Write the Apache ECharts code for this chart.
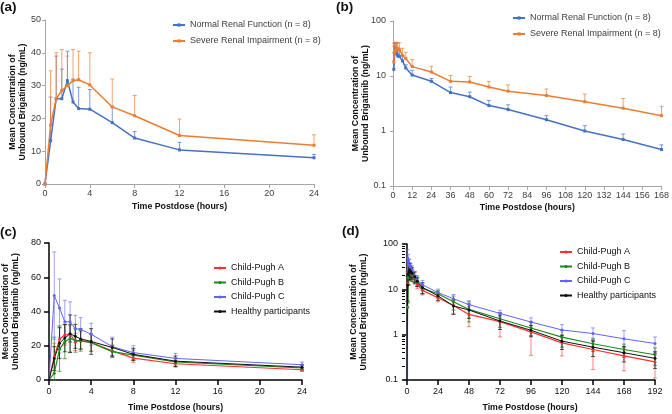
<!DOCTYPE html>
<html><head><meta charset="utf-8">
<script src="https://cdn.jsdelivr.net/npm/echarts@6/dist/echarts.min.js"></script>
<style>html,body{margin:0;padding:0;background:#fff}#c{width:672px;height:414px}</style>
</head><body><div id="c"></div>
<script>
// ---------- Panel (a): renal, linear ----------
const tA = [0,0.5,1,1.5,2,2.5,3,4,6,8,12,24];
const normalA   = [0,13.2,26,26,31.5,25,23,22.8,18.7,14,10.4,8];
const normalASD = [0,13.3,13,9,9,7,6.5,6,4.8,2,2.3,1];
const severeA   = [0,18,26,28.5,30,31.5,31.8,30.2,23.5,20.8,14.8,11.8];
const severeASD = [0,16.5,14,12.5,9,9.5,8.7,9.8,8.5,6.2,5,3.2];
// ---------- Panel (b): renal, log ----------
const tB = [0.5,1,1.5,2,2.5,3,4,6,8,12,24,36,48,60,72,96,120,144,168];
const normalB   = [13.2,26,26,31.5,25,23,22.8,18.7,14,10.4,8,5,4.2,2.9,2.45,1.6,1.0,0.7,0.46];
const normalBSD = [13.3,13,9,9,7,6.5,6,4.8,2,2.3,1,1.3,0.9,0.7,0.55,0.3,0.25,0.18,0.1];
const severeB   = [18,26,28.5,30,31.5,31.8,30.2,23.5,20.8,14.8,11.8,8,7.8,6.3,5.3,4.4,3.4,2.6,1.9];
const severeBSD = [16.5,14,12.5,9,9.5,8.7,9.8,8.5,6.2,5,3.2,2.2,2.0,1.7,1.6,1.4,1.3,1.3,0.9];
// ---------- Panel (c): hepatic, linear ----------
const tC = [0,0.5,1,1.5,2,2.5,3,4,6,8,12,24];
const cpaC = [0,13.5,23.8,26.3,27,22.2,23.2,21.8,17,12.8,9.5,6];
const cpaCSD = [0,8,8,6,5,5,5,5,3.5,2.5,2,1];
const cpbC = [0,4,18,22.4,24.3,23.2,22.8,21.8,16.6,14.5,10.5,7];
const cpbCSD = [0,21,13,10,8,7,6,5,3.5,3,2.5,1.5];
const cpcC = [0,49.3,42,34,34,29.8,29.6,26.7,19.5,16,12.6,8.9];
const cpcCSD = [0,25.5,17,12.5,11.6,8,6.8,6.4,5.5,4,3,1.6];
const hpC = [0,12.5,21.5,24.5,27,25.5,24,22.5,19,15,11,7.5];
const hpCSD = [0,7,9,8,11,7,6,7.5,5,3.5,3,1.5];
// ---------- Panel (d): hepatic, log ----------
const tD = [0,0.5,1,1.5,2,2.5,3,4,6,8,12,24,36,48,72,96,120,144,168,192];
const cpaD = [0,13.5,23.8,26.3,27,22.2,23.2,21.8,17,12.8,9.5,6.5,4.4,2.8,1.94,1.15,0.66,0.47,0.34,0.25];
const cpaDSD = [0,8,8,6,5,5,5,5,3.5,2.5,2,1.2,1.5,1.3,1.05,0.8,0.32,0.3,0.18,0.14];
const cpbD = [0,4,18,22.4,24.3,23.2,22.8,21.8,16.6,14.5,10.5,8,5.3,3.6,2.25,1.4,0.88,0.63,0.47,0.36];
const cpbDSD = [0,21,13,10,8,7,6,5,3.5,3,2.5,1.5,1.8,1.7,0.8,0.45,0.35,0.2,0.15,0.15];
const cpcD = [0,49.3,42,34,34,29.8,29.6,26.7,19.5,16,12.6,8.5,6.2,4.6,2.94,1.9,1.27,1.06,0.81,0.64];
const cpcDSD = [0,25.5,17,12.5,11.6,8,6.8,6.4,5.5,4,3,1.6,1.5,1.0,0.5,0.45,0.4,0.35,0.42,0.25];
const hpD = [0,12.5,21.5,24.5,27,25.5,24,22.5,19,15,11,7.2,4.3,3.5,2.0,1.25,0.72,0.53,0.40,0.30];
const hpDSD = [0,7,9,8,11,7,6,7.5,5,3.5,3,1.5,1.5,1.2,0.7,0.35,0.25,0.2,0.15,0.12];

// tick positions
const xTicksD = [0,24,48,72,96,120,144,168,192];
const yMinorD = [0.2,0.3,0.4,0.5,0.6,0.7,0.8,0.9,2,3,4,5,6,7,8,9,20,30,40,50,60,70,80,90];
const LOGMIN = 0.1;
const FONT = '"Liberation Sans", Arial, sans-serif';

const N1 = 'Normal Renal Function (n = 8)';
const N2 = 'Severe Renal Impairment (n = 8)';
const HA = 'Child-Pugh A', HB = 'Child-Pugh B', HC = 'Child-Pugh C', HH = 'Healthy participants';
const BLUE = '#4472c4', ORANGE = '#ed7d31';
const RED = '#ff3030', GREEN = '#1c8c1c', VIOLET = '#6262ff', BLACK = '#111111';

function pairs(t, v, floor) {
  return t.map((x, i) => [x, floor ? Math.max(v[i], floor) : v[i]]);
}
function errData(t, v, sd, twoSided, floor) {
  const out = [];
  t.forEach((x, i) => {
    if (!sd[i]) return;
    let lo = twoSided ? v[i] - sd[i] : v[i];
    if (floor) lo = Math.max(lo, floor); else lo = Math.max(lo, 0);
    out.push([x, lo, v[i] + sd[i]]);
  });
  return out;
}
function errSeries(name, xi, data, color, twoSided, cap, opacity) {
  return {
    type: 'custom', name: name, xAxisIndex: xi, yAxisIndex: xi, z: 1,
    data: data, encode: { x: 0, y: [1, 2] }, silent: true,
    renderItem: function (params, api) {
      const t = api.value(0), lo = api.value(1), hi = api.value(2);
      const pH = api.coord([t, hi]), pL = api.coord([t, lo]);
      const st = { stroke: color, lineWidth: 1, opacity: opacity };
      const ch = [
        { type: 'line', shape: { x1: pH[0], y1: pH[1], x2: pL[0], y2: pL[1] }, style: st },
        { type: 'line', shape: { x1: pH[0] - cap, y1: pH[1], x2: pH[0] + cap, y2: pH[1] }, style: st }
      ];
      if (twoSided) ch.push({ type: 'line', shape: { x1: pL[0] - cap, y1: pL[1], x2: pL[0] + cap, y2: pL[1] }, style: st });
      return { type: 'group', children: ch };
    }
  };
}
function lineSeries(name, xi, data, color, symbol, size, width) {
  return {
    type: 'line', name: name, xAxisIndex: xi, yAxisIndex: xi, z: 3,
    data: data, symbol: symbol, symbolSize: size, showSymbol: true,
    itemStyle: { color: color }, lineStyle: { color: color, width: width },
    animation: false
  };
}

const grayAxis = { lineStyle: { color: '#a6a6a6', width: 1 } };
const blackAxis = { lineStyle: { color: '#000', width: 1.5 } };
const lblGray = { color: '#404040', fontSize: 9, fontFamily: FONT };
const lblBlack = { color: '#111', fontSize: 9, fontFamily: FONT };
const nameStyle = { fontWeight: 'bold', fontSize: 8.8, fontFamily: FONT, color: '#111', lineHeight: 10 };
const YNAME = 'Mean Concentration of\nUnbound Brigatinib (ng/mL)';
const XNAME = 'Time Postdose (hours)';

function legend(data, left, top, gap, color) {
  return { data: data, left: left, top: top, orient: 'vertical', padding: 0, itemGap: gap,
    itemWidth: 12, itemHeight: 4, textStyle: { fontSize: 9, lineHeight: 11, color: color, fontFamily: FONT } };
}
function yName(gap) {
  return { name: YNAME, nameLocation: 'middle', nameGap: gap, nameMoveOverlap: false, nameTextStyle: nameStyle };
}
function xName(gap) {
  return { name: XNAME, nameLocation: 'middle', nameGap: gap, nameMoveOverlap: false, nameTextStyle: nameStyle };
}

const option = {
  animation: false,
  textStyle: { fontFamily: FONT },
  title: [
    { text: '(a)', left: 0, top: 0 },
    { text: '(b)', left: 336, top: 0 },
    { text: '(c)', left: 0, top: 225 },
    { text: '(d)', left: 342, top: 224 }
  ].map(o => Object.assign(o, { padding: 0, textStyle: { fontSize: 13.5, fontWeight: 'bold', color: '#111', fontFamily: FONT } })),
  grid: [
    { left: 45, top: 20, width: 269, height: 164 },
    { left: 393, top: 21, width: 269, height: 165 },
    { left: 48, top: 243, width: 254, height: 138 },
    { left: 405, top: 244, width: 250, height: 137 }
  ],
  legend: [
    legend([N1, N2], 172, 19.5, 5, '#404040'),
    legend([N1, N2], 512, 12.5, 5, '#404040'),
    legend([HA, HB, HC, HH], 213, 262.5, 3.5, '#111'),
    legend([HA, HB, HC, HH], 559, 246.5, 3.5, '#111')
  ],
  xAxis: [
    Object.assign({ gridIndex: 0, type: 'value', min: 0, max: 24, interval: 4, axisLine: grayAxis, axisTick: Object.assign({ length: 4 }, grayAxis),
      splitLine: { show: false }, axisLabel: Object.assign({ margin: 5 }, lblGray) }, xName(18)),
    Object.assign({ gridIndex: 1, type: 'value', min: 0, max: 168, interval: 12, axisLine: grayAxis, axisTick: Object.assign({ length: 4 }, grayAxis),
      splitLine: { show: false }, axisLabel: Object.assign({ margin: 5 }, lblGray) }, xName(17)),
    Object.assign({ gridIndex: 2, type: 'value', min: 0, max: 24, interval: 4, axisLine: blackAxis, axisTick: Object.assign({ length: 5 }, blackAxis),
      splitLine: { show: false }, axisLabel: Object.assign({ margin: 7 }, lblBlack) }, xName(23)),
    Object.assign({ gridIndex: 3, type: 'value', min: -1.5, max: 192, axisLine: blackAxis,
      axisTick: Object.assign({ length: 5, customValues: xTicksD }, blackAxis),
      splitLine: { show: false }, axisLabel: Object.assign({ margin: 7, customValues: xTicksD }, lblBlack) }, xName(23))
  ],
  yAxis: [
    Object.assign({ gridIndex: 0, type: 'value', min: 0, max: 50, interval: 10, axisLine: Object.assign({ show: true }, grayAxis), axisTick: Object.assign({ show: true, length: 3 }, grayAxis),
      splitLine: { show: false }, axisLabel: Object.assign({ margin: 4 }, lblGray) }, yName(17)),
    Object.assign({ gridIndex: 1, type: 'log', logBase: 10, min: 0.1, max: 100, axisLine: Object.assign({ show: true }, grayAxis), axisTick: Object.assign({ show: true, length: 3 }, grayAxis),
      splitLine: { show: false }, axisLabel: Object.assign({ margin: 7 }, lblGray) }, yName(22)),
    Object.assign({ gridIndex: 2, type: 'value', min: 0, max: 80, interval: 20, axisLine: Object.assign({ show: true }, blackAxis), axisTick: Object.assign({ show: true, length: 5 }, blackAxis),
      splitLine: { show: false }, axisLabel: Object.assign({ margin: 8 }, lblBlack) }, yName(28)),
    Object.assign({ gridIndex: 3, type: 'log', logBase: 10, min: 0.1, max: 100, axisLine: Object.assign({ show: true }, blackAxis), axisTick: Object.assign({ show: true, length: 5 }, blackAxis),
      splitLine: { show: false }, axisLabel: Object.assign({ margin: 7 }, lblBlack) }, yName(36)),
    { gridIndex: 3, type: 'log', logBase: 10, min: 0.1, max: 100, position: 'left', offset: 0,
      axisLine: { show: false }, axisLabel: { show: false }, splitLine: { show: false },
      axisTick: { show: true, length: 3, customValues: yMinorD, lineStyle: { color: '#000', width: 1 } } }
  ],
  series: [
    errSeries('eA1', 0, errData(tA, normalA, normalASD, false), BLUE, false, 2, 0.7),
    errSeries('eA2', 0, errData(tA, severeA, severeASD, false), ORANGE, false, 2, 0.7),
    lineSeries(N1, 0, pairs(tA, normalA), BLUE, 'rect', 3, 1.5),
    lineSeries(N2, 0, pairs(tA, severeA), ORANGE, 'rect', 3, 1.5),

    errSeries('eB1', 1, errData(tB, normalB, normalBSD, false, LOGMIN), BLUE, false, 2, 0.7),
    errSeries('eB2', 1, errData(tB, severeB, severeBSD, false, LOGMIN), ORANGE, false, 2, 0.7),
    lineSeries(N1, 1, pairs(tB, normalB), BLUE, 'rect', 3, 1.5),
    lineSeries(N2, 1, pairs(tB, severeB), ORANGE, 'rect', 3, 1.5),

    errSeries('eC1', 2, errData(tC, cpaC, cpaCSD, true), RED, true, 2, 0.6),
    errSeries('eC2', 2, errData(tC, cpbC, cpbCSD, true), GREEN, true, 2, 0.7),
    errSeries('eC3', 2, errData(tC, cpcC, cpcCSD, true), VIOLET, true, 2, 0.6),
    errSeries('eC4', 2, errData(tC, hpC, hpCSD, true), BLACK, true, 2, 0.7),
    lineSeries(HA, 2, pairs(tC, cpaC), RED, 'circle', 3, 1.2),
    lineSeries(HB, 2, pairs(tC, cpbC), GREEN, 'circle', 3, 1.2),
    lineSeries(HC, 2, pairs(tC, cpcC), VIOLET, 'circle', 3, 1),
    lineSeries(HH, 2, pairs(tC, hpC), BLACK, 'circle', 3, 1),

    errSeries('eD1', 3, errData(tD, cpaD, cpaDSD, true, LOGMIN), RED, true, 2, 0.6),
    errSeries('eD2', 3, errData(tD, cpbD, cpbDSD, true, LOGMIN), GREEN, true, 2, 0.7),
    errSeries('eD3', 3, errData(tD, cpcD, cpcDSD, true, LOGMIN), VIOLET, true, 2, 0.6),
    errSeries('eD4', 3, errData(tD, hpD, hpDSD, true, LOGMIN), BLACK, true, 2, 0.7),
    lineSeries(HA, 3, pairs(tD, cpaD, LOGMIN), RED, 'circle', 3, 1.2),
    lineSeries(HB, 3, pairs(tD, cpbD, LOGMIN), GREEN, 'circle', 3, 1.2),
    lineSeries(HC, 3, pairs(tD, cpcD, LOGMIN), VIOLET, 'circle', 3, 1),
    lineSeries(HH, 3, pairs(tD, hpD, LOGMIN), BLACK, 'circle', 3, 1)
  ]
};
const chart = echarts.init(document.getElementById('c'), null, { renderer: 'canvas' });
chart.setOption(option);
</script></body></html>
